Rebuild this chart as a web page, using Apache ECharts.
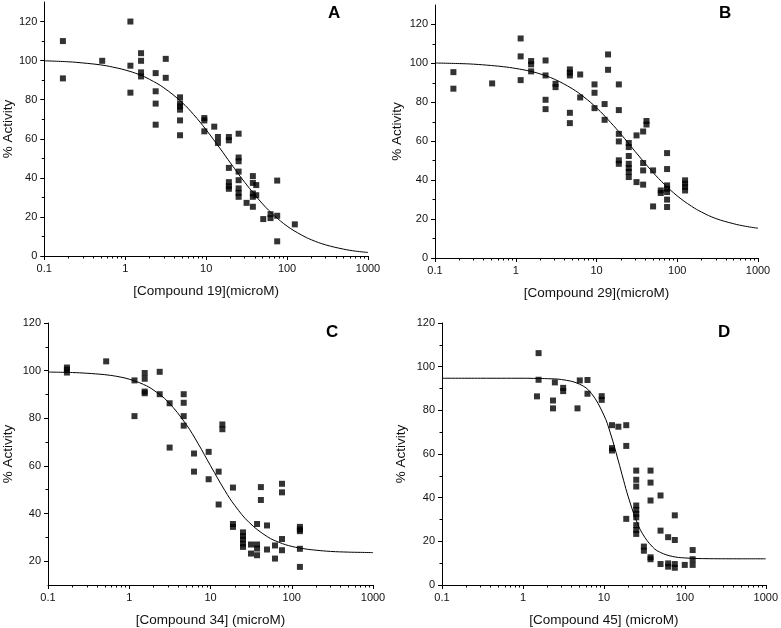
<!DOCTYPE html>
<html>
<head>
<meta charset="utf-8">
<script src="https://cdn.jsdelivr.net/npm/echarts@6/dist/echarts.min.js"></script>
<style>
html,body{margin:0;padding:0;background:#fff;}
#chart{width:781px;height:628px;}
</style>
</head>
<body>
<div id="chart"></div>
<script>
// ---------- data ----------
const panelLetters = ['A', 'B', 'C', 'D'];
const xNames = ['[Compound 19](microM)', '[Compound 29](microM)', '[Compound 34] (microM)', '[Compound 45] (microM)'];
const yName = '% Activity';
const xTickMajor = [0.1, 1, 10, 100, 1000];
const xTickMinor = [0.2,0.3,0.4,0.5,0.6,0.7,0.8,0.9,2,3,4,5,6,7,8,9,20,30,40,50,60,70,80,90,200,300,400,500,600,700,800,900];
const yMajorAB = [0, 20, 40, 60, 80, 100, 120];
const yMinorAB = [10, 30, 50, 70, 90, 110];
const yMajorC = [20, 40, 60, 80, 100, 120];
const yMinorC = [30, 50, 70, 90, 110];
const yMajorD = [0, 20, 40, 60, 80, 100, 120];
const yMinorD = [10, 30, 50, 70, 90, 110];

const pointsA = [[0.17,110],[0.17,90.9],[0.52,99.9],[1.16,120],[1.16,97.4],[1.16,83.6],[1.57,103.8],[1.57,99.9],[1.57,94],[1.57,91.9],[2.38,93.6],[2.38,84.3],[2.38,78],[2.38,67.2],[3.17,100.9],[3.17,91.2],[4.76,81.2],[4.76,78],[4.76,76.6],[4.76,74.9],[4.76,69.4],[4.76,61.8],[9.5,70.6],[9.5,69.4],[9.5,63.8],[12.6,66.2],[14,60.9],[14,57.9],[19.1,60.9],[19.1,59.2],[19.1,45.1],[19.1,37.8],[19.1,35.7],[19.1,34.4],[25.2,62.6],[25.2,50.4],[25.2,48.5],[25.2,43.2],[25.2,38.8],[25.2,34.6],[25.2,32.3],[25.2,30.3],[31.6,27.2],[37.8,40.9],[37.8,37.4],[37.8,32],[37.8,30.3],[37.8,25.2],[41.6,36.3],[41.6,31.1],[50.8,18.9],[62.5,21.4],[62.5,19.4],[75.5,38.6],[75.5,20.6],[75.5,7.5],[124.7,16.2]];
const pointsB = [[0.169,95.5],[0.169,87],[0.51,89.7],[1.15,112.8],[1.15,103.6],[1.15,91.4],[1.55,101.2],[1.55,99.5],[1.55,95.9],[2.34,101.5],[2.34,93.8],[2.34,81.3],[2.34,76.5],[3.11,89.5],[3.11,87.8],[4.68,96.9],[4.68,95.2],[4.68,93.8],[4.68,74.6],[4.68,69.3],[6.28,94.3],[6.28,82.5],[9.45,89.2],[9.45,84.9],[9.45,77],[12.6,79.1],[12.6,71],[13.9,104.6],[13.9,96.7],[18.9,89.2],[18.9,76],[18.9,63.8],[18.9,59.9],[18.9,50.2],[18.9,48.4],[25.1,59.1],[25.1,57],[25.1,52.4],[25.1,48.4],[25.1,46.2],[25.1,44.2],[25.1,41.6],[31.3,39],[31.3,63],[37.8,65],[37.8,48.8],[37.8,45],[37.8,37.7],[41.6,70.4],[41.6,68.6],[50.2,45],[50.2,26.5],[62.5,34.7],[62.5,33.4],[74.8,53.9],[74.8,45.7],[74.8,37.3],[74.8,35.6],[74.8,33.9],[74.8,30],[74.8,26.2],[125,39.9],[125,38.2],[125,36.5],[125,34.7]];
const pointsC = [[0.171,101.3],[0.171,100.4],[0.171,99.2],[0.52,103.9],[1.16,95.9],[1.16,80.9],[1.55,99],[1.55,96.6],[1.55,91.2],[1.55,90.5],[2.37,99.5],[2.37,90.1],[3.14,86.3],[3.14,67.7],[4.68,90.1],[4.68,86.5],[4.68,80.9],[4.68,76.9],[6.27,65.2],[6.27,57.6],[9.49,65.9],[9.49,54.4],[12.6,57.6],[12.6,43.8],[14,77.4],[14,75.4],[18.9,50.9],[18.9,35.6],[18.9,34.4],[25.1,32.1],[25.1,30.5],[25.1,29.1],[25.1,27.4],[25.1,26],[31.5,27],[31.5,23.2],[37.4,35.6],[37.4,27],[37.4,25.3],[37.4,22.5],[41.7,51.1],[41.7,45.7],[49.6,35],[49.6,24.9],[62.2,26.6],[62.2,21.1],[75.9,52.5],[75.9,48.9],[75.9,29.3],[75.9,24.6],[126,34.4],[126,33.3],[126,32.6],[126,25.2],[126,17.6]];
const pointsD = [[1.56,106.2],[1.56,94],[1.49,86.4],[2.35,84.5],[2.35,80.9],[2.48,92.8],[3.14,90.3],[3.14,88.8],[4.72,80.9],[5.04,93.7],[6.27,93.9],[6.27,87.6],[9.4,86.5],[9.4,84.8],[12.6,73.2],[12.6,62.7],[12.6,61.6],[15.1,72.5],[18.9,73.2],[18.9,63.7],[18.9,30.3],[25.1,52.4],[25.1,48.2],[25.1,45.1],[25.1,36.4],[25.1,34.4],[25.1,32.6],[25.1,31],[25.1,27.4],[25.1,25.2],[25.1,23.4],[31.2,17.6],[31.2,15.7],[37.7,52.4],[37.7,46.9],[37.7,38.7],[37.7,12.7],[37.7,11.8],[50.1,41],[50.1,24.9],[50.1,9.6],[62.2,21.9],[62.2,9.9],[62.2,8.4],[75.2,31.9],[75.2,20.6],[75.2,9.6],[75.2,7.9],[99.8,9.2],[125,16],[125,11.8],[125,9.2]];

// fitted curves, values at these concentrations
const curveX = [0.1,0.2,0.3,0.5,0.7,1,1.5,2,3,5,7,10,15,20,30,50,70,100,150,200,300,500,700,1000];
const curveA = [99.9,99.4,98.8,97.8,96.7,95.2,92.8,90.4,86.1,78.7,72.4,64.6,54.8,47.6,37.7,26.6,20.6,15.3,10.8,8.3,5.7,3.5,2.5,1.8];
const curveB = [100.2,99.9,99.6,98.9,98.3,97.4,96.0,94.6,91.9,87.0,82.7,77.2,69.6,63.7,54.8,44.0,37.7,31.9,26.6,23.6,20.3,17.6,16.3,15.3];
const curveC = [99.4,99.2,98.9,98.3,97.6,96.4,94.2,91.8,86.9,77.5,69.5,60.1,49.7,43.3,36.2,30.3,27.9,26.2,25.1,24.6,24.1,23.8,23.7,23.6];
const curveDX = [0.1,0.3,1,1.5,2,3,5,7,10,12,15,17.5,20,25,30,40,50,70,100,200,500,1000];
const curveD = [94.7,94.7,94.7,94.6,94.5,94.1,92.0,87.8,77.8,69.7,57.2,48.0,40.4,29.8,23.5,17.4,14.9,13.1,12.4,12.05,12.0,12.0];

// ---------- chart ----------
const FONT = 'Liberation Sans, Arial, sans-serif';
const grids = [
  {left: 43, top: 2, width: 325, height: 254},
  {left: 435, top: 5, width: 323, height: 253},
  {left: 48, top: 323, width: 325, height: 262},
  {left: 442, top: 323, width: 325, height: 262}
];
const yRanges = [[0,130],[0,130],[10,120],[0,120]];
const yMajors = [yMajorAB, yMajorAB, yMajorC, yMajorD];
const yMinors = [yMinorAB, yMinorAB, yMinorC, yMinorD];
const yNameGaps = [29, 31, 33, 34];
const letterPos = [[328,5],[719,5],[326,324],[718,324]];
const pointsAll = [pointsA, pointsB, pointsC, pointsD];
const curvesAll = [
  curveX.map((x,i)=>[x, curveA[i]]),
  curveX.map((x,i)=>[x, curveB[i]]),
  curveX.map((x,i)=>[x, curveC[i]]),
  curveDX.map((x,i)=>[x, curveD[i]])
];

const xAxis = [], yAxis = [], series = [], title = [];
grids.forEach((g, i) => {
  xAxis.push({
    type: 'log', logBase: 10, gridIndex: i, min: 0.1, max: 1000, position: 'bottom',
    name: xNames[i], nameLocation: 'middle', nameGap: 28,
    nameTextStyle: {fontFamily: FONT, fontSize: 13.5, color: '#111'},
    axisLine: {show: true, onZero: false, lineStyle: {color: '#000', width: 1}},
    axisTick: {show: true, inside: false, length: 4, lineStyle: {color: '#000'}, customValues: xTickMajor},
    axisLabel: {fontFamily: FONT, fontSize: 11, color: '#111', margin: 7, customValues: xTickMajor,
      formatter: v => String(Number(Number(v).toPrecision(6)))},
    splitLine: {show: false}, minorTick: {show: false}
  });
  xAxis.push({
    type: 'log', logBase: 10, gridIndex: i, min: 0.1, max: 1000, position: 'bottom',
    axisLine: {show: false, onZero: false},
    axisTick: {show: true, inside: false, length: 2.5, lineStyle: {color: '#000'}, customValues: xTickMinor},
    axisLabel: {show: false}, splitLine: {show: false}
  });
  yAxis.push({
    type: 'value', gridIndex: i, min: yRanges[i][0], max: yRanges[i][1], position: 'left',
    name: yName, nameLocation: 'middle', nameGap: yNameGaps[i], nameRotate: 90,
    nameTextStyle: {fontFamily: FONT, fontSize: 13.5, color: '#111'},
    axisLine: {show: true, onZero: false, lineStyle: {color: '#000', width: 1}},
    axisTick: {show: true, inside: false, length: 4, lineStyle: {color: '#000'}, customValues: yMajors[i]},
    axisLabel: {fontFamily: FONT, fontSize: 11, color: '#111', margin: 7, customValues: yMajors[i]},
    splitLine: {show: false}
  });
  yAxis.push({
    type: 'value', gridIndex: i, min: yRanges[i][0], max: yRanges[i][1], position: 'left',
    axisLine: {show: false, onZero: false},
    axisTick: {show: true, inside: false, length: 2.5, lineStyle: {color: '#000'}, customValues: yMinors[i]},
    axisLabel: {show: false}, splitLine: {show: false}
  });
  series.push({
    type: 'line', xAxisIndex: 2*i, yAxisIndex: 2*i, data: curvesAll[i],
    smooth: 0.4, showSymbol: false, symbol: 'none', silent: true,
    lineStyle: {color: '#000', width: 1}, z: 2
  });
  series.push({
    type: 'scatter', xAxisIndex: 2*i, yAxisIndex: 2*i, data: pointsAll[i],
    symbol: 'rect', symbolSize: 6, itemStyle: {color: '#000'}, silent: true, z: 3
  });
  title.push({
    text: panelLetters[i], left: letterPos[i][0], top: letterPos[i][1], padding: 0,
    textStyle: {fontFamily: FONT, fontSize: 17, fontWeight: 'bold', color: '#000'}
  });
});

const chart = echarts.init(document.getElementById('chart'), null, {renderer: 'canvas'});
chart.setOption({
  animation: false,
  backgroundColor: '#fff',
  title: title,
  grid: grids,
  xAxis: xAxis,
  yAxis: yAxis,
  series: series
});
</script>
</body>
</html>
